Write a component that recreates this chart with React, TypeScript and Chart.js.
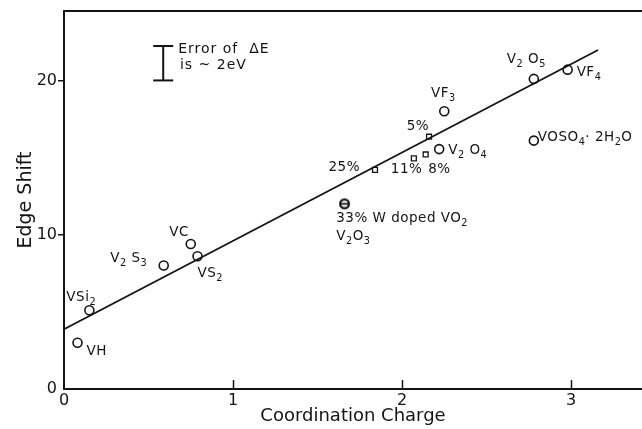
import { useEffect, useRef } from "react";
import { Chart, registerables } from "chart.js";

Chart.register(...registerables);

const FONT = '"DejaVu Sans", "Liberation Sans", sans-serif';
const INK = "#141414";

// Vanadium compounds (open circles); "{…}" marks a subscript in a name
const compoundNames = ["VH", "VSi{2}", "V{2} S{3}", "VC", "VS{2}", "VF{3}", "V{2} O{4}", "V{2} O{5}", "VF{4}", "VOSO{4}· 2H{2}O"];
const compoundCharge = [0.08, 0.15, 0.59, 0.75, 0.79, 2.25, 2.22, 2.78, 2.98, 2.78];
const compoundShift = [3.0, 5.1, 8.0, 9.4, 8.6, 18.0, 15.55, 20.1, 20.7, 16.1];

// W-doped VO2 samples (small squares)
const dopingNames = ["25%", "11%", "8%", "5%"];
const dopingCharge = [1.84, 2.07, 2.14, 2.16];
const dopingShift = [14.2, 14.95, 15.2, 16.35];

// Coincident point shared by two samples
const sharedNames = ["33% W doped VO{2}", "V{2}O{3}"];
const sharedCharge = [1.66];
const sharedShift = [12.0];

// Least-squares line
const fitCharge = [0, 3.16];
const fitShift = [3.87, 21.97];

// Error-bar key
const errorCharge = 0.587;
const errorRange = [20.0, 22.23];
const errorNote = ["Error of  ΔE", "is ~ 2eV"];

// Axis ticks
const xTickStep = 1;
const yTickStep = 10;

// Label placement relative to each marker (left edge, baseline), in px
const compoundLabelOffsets = [
  [9, 12.5], [-23, -9.5], [-53.5, -4], [-21.5, -8.3], [0, 20.5],
  [-13.3, -14.4], [9, 5], [-27, -16], [9, 6.7], [4, 0.7],
];
const dopingLabelOffsets = [[-46.5, 0.7], [-23, 14.7], [2.5, 18.3], [-22.3, -6.7]];
const sharedLabelOffsets = [[-8.3, 18], [-8.3, 35.7]];
const errorNoteOffsets = [[15, 7.3], [16.7, 23]];

function drawRich(ctx: CanvasRenderingContext2D, text: string, x: number, y: number, size: number) {
  const parts = text.split(/(\{[^}]*\})/).filter(Boolean);
  let cx = x;
  for (const p of parts) {
    const sub = p.startsWith("{");
    const s = sub ? p.slice(1, -1) : p;
    const fs = sub ? size * 0.72 : size;
    ctx.font = `${fs}px ${FONT}`;
    ctx.fillText(s, cx, sub ? y + size * 0.3 : y);
    cx += ctx.measureText(s).width;
  }
}

function makeBarredCircle(): HTMLCanvasElement {
  const c = document.createElement("canvas");
  c.width = 13;
  c.height = 13;
  const g = c.getContext("2d")!;
  g.strokeStyle = INK;
  g.lineWidth = 2.2;
  g.beginPath();
  g.arc(6.5, 6.5, 4.4, 0, Math.PI * 2);
  g.stroke();
  g.lineWidth = 1.8;
  g.beginPath();
  g.moveTo(2.5, 6.5);
  g.lineTo(10.5, 6.5);
  g.stroke();
  return c;
}

const annotationPlugin = {
  id: "annotations",
  afterDatasetsDraw(chart: any) {
    const { ctx, chartArea, scales } = chart;
    ctx.save();
    // top frame edge
    ctx.strokeStyle = INK;
    ctx.lineWidth = 1.8;
    ctx.beginPath();
    ctx.moveTo(chartArea.left, chartArea.top);
    ctx.lineTo(chart.width, chartArea.top);
    ctx.stroke();
    // inward ticks on the charge axis
    ctx.lineWidth = 1.5;
    for (const t of scales.x.ticks) {
      if (t.value === 0) continue;
      const px = Math.round(scales.x.getPixelForValue(t.value)) + 0.5;
      ctx.beginPath();
      ctx.moveTo(px, chartArea.bottom);
      ctx.lineTo(px, chartArea.bottom - 9);
      ctx.stroke();
    }

    ctx.fillStyle = INK;
    ctx.textAlign = "left";
    ctx.textBaseline = "alphabetic";
    (ctx as any).letterSpacing = "0.5px";
    const place = (dsIndex: number, names: string[], offsets: number[][], pointOf: (i: number) => number) => {
      const meta = chart.getDatasetMeta(dsIndex);
      names.forEach((name, i) => {
        const el = meta.data[pointOf(i)];
        if (!el) return;
        drawRich(ctx, name, el.x + offsets[i][0], el.y + offsets[i][1], 13.5);
      });
    };
    place(2, compoundNames, compoundLabelOffsets, (i) => i);
    place(3, dopingNames, dopingLabelOffsets, (i) => i);
    place(4, sharedNames, sharedLabelOffsets, () => 0);

    (ctx as any).letterSpacing = "1px";
    const top = chart.getDatasetMeta(1).data[1];
    if (top) {
      errorNote.forEach((line, i) => {
        drawRich(ctx, line, top.x + errorNoteOffsets[i][0], top.y + errorNoteOffsets[i][1], 14);
      });
    }
    ctx.restore();
  },
};

export default function App() {
  const ref = useRef<HTMLCanvasElement | null>(null);

  useEffect(() => {
    if (!ref.current) return;
    const barred = makeBarredCircle();
    const chart = new Chart(ref.current, {
      type: "scatter",
      data: {
        datasets: [
          {
            type: "line",
            data: fitCharge.map((x, i) => ({ x, y: fitShift[i] })),
            borderColor: INK,
            borderWidth: 1.8,
            pointRadius: 0,
          },
          {
            type: "line",
            data: errorRange.map((y) => ({ x: errorCharge, y })),
            borderColor: INK,
            borderWidth: 2,
            pointStyle: "line",
            pointRadius: 10,
            pointBorderWidth: 2,
            pointBorderColor: INK,
          },
          {
            data: compoundCharge.map((x, i) => ({ x, y: compoundShift[i] })),
            pointStyle: "circle",
            pointRadius: 4.5,
            pointBorderWidth: 1.6,
            pointBorderColor: INK,
            pointBackgroundColor: "rgba(255,255,255,0)",
          },
          {
            data: dopingCharge.map((x, i) => ({ x, y: dopingShift[i] })),
            pointStyle: "rect",
            pointRadius: 3.5,
            pointBorderWidth: 1.3,
            pointBorderColor: INK,
            pointBackgroundColor: "#ffffff",
          },
          {
            data: sharedCharge.map((x, i) => ({ x, y: sharedShift[i] })),
            pointStyle: barred as any,
            pointRadius: 6,
          },
        ] as any,
      },
      options: {
        animation: false,
        responsive: false,
        devicePixelRatio: 1,
        layout: { autoPadding: false, padding: { top: 11, right: 0, bottom: 0, left: 0 } },
        plugins: { legend: { display: false }, tooltip: { enabled: false } },
        scales: {
          x: {
            type: "linear",
            min: 0,
            max: 3.42,
            afterFit: (s: any) => {
              s.height = 40;
            },
            ticks: {
              stepSize: xTickStep,
              includeBounds: false,
              padding: 2,
              color: INK,
              maxRotation: 0,
              font: { family: FONT, size: 16 },
            },
            grid: { display: false, drawTicks: false },
            border: { display: true, color: INK, width: 2 },
            title: {
              display: true,
              text: "Coordination Charge",
              color: INK,
              font: { family: FONT, size: 18 },
              padding: { top: 0, bottom: 2 },
            },
          },
          y: {
            type: "linear",
            min: 0,
            max: 24.5,
            afterFit: (s: any) => {
              s.width = 64;
            },
            ticks: {
              stepSize: yTickStep,
              includeBounds: false,
              padding: 1,
              color: INK,
              font: { family: FONT, size: 16 },
            },
            grid: {
              drawOnChartArea: false,
              drawTicks: true,
              tickLength: 6,
              lineWidth: 1.5,
              color: (c: any) => (c.tick && c.tick.value === 0 ? "rgba(0,0,0,0)" : INK),
            },
            border: { display: true, color: INK, width: 2 },
            title: {
              display: true,
              text: "Edge Shift",
              color: INK,
              font: { family: FONT, size: 19 },
              padding: { top: 15, bottom: 0 },
            },
          },
        },
      } as any,
      plugins: [annotationPlugin],
    });
    return () => chart.destroy();
  }, []);

  return (
    <div style={{ position: "absolute", left: 0, top: 0, width: 642, height: 429, background: "#fff" }}>
      <canvas ref={ref} width={642} height={429} style={{ display: "block" }} />
    </div>
  );
}
